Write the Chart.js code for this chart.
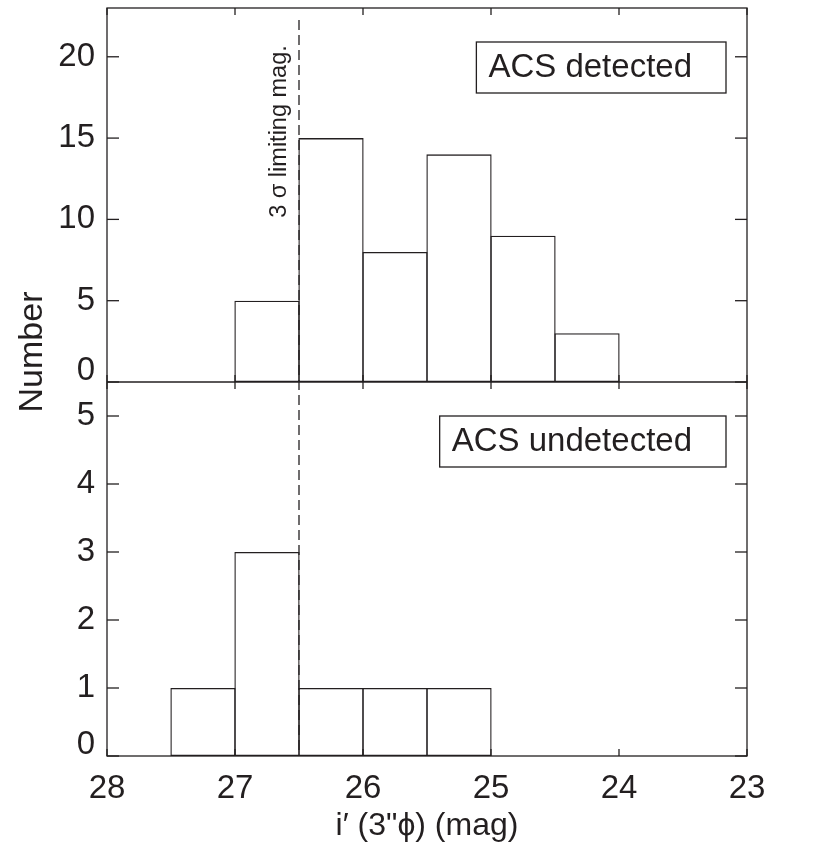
<!DOCTYPE html>
<html>
<head>
<meta charset="utf-8">
<script src="https://cdn.jsdelivr.net/npm/chart.js@4.4.1/dist/chart.umd.min.js"></script>
<style>
  html, body { margin: 0; padding: 0; background: #fff; }
  canvas { display: block; }
</style>
</head>
<body>
<canvas id="chartHistograma" width="831" height="856"></canvas>
<script>
// Bins de 0.5 mag (borda mais fraca de cada bin) e contagens
const larguraBin = 0.5;
const binsDetectados = [27.0, 26.5, 26.0, 25.5, 25.0, 24.5];
const contagemDetectados = [5, 15, 8, 14, 9, 3];
const binsNaoDetectados = [27.5, 27.0, 26.5, 26.0, 25.5];
const contagemNaoDetectados = [1, 3, 1, 1, 1];

// Ticks dos eixos
const ticksMag = [28, 27, 26, 25, 24, 23];
const ticksTopo = [0, 5, 10, 15, 20];
const ticksBase = [0, 1, 2, 3, 4, 5];

const limiteMag = 26.5; // limite 3 sigma
const rotuloLimite = '3 σ limiting mag.';
const rotulosPaineis = ['ACS detected', 'ACS undetected'];

const COR = '#231f20';
const FONTE = "'Liberation Sans', Arial, sans-serif";

document.addEventListener('DOMContentLoaded', () => {
    inicializarGrafico();
});

function paraPontos(bins, contagens) {
    return bins.map((b, i) => ({ x: b - larguraBin / 2, y: contagens[i] }));
}

// desenha moldura, ticks internos, linha tracejada e caixas de texto
const molduraPlugin = {
    id: 'moldura',
    afterDraw(chart) {
        const { ctx, chartArea: a, scales } = chart;
        const x = scales.x;
        const paineis = [scales.yTopo, scales.yBase];
        const linha = (x1, y1, x2, y2) => {
            ctx.beginPath(); ctx.moveTo(x1, y1); ctx.lineTo(x2, y2); ctx.stroke();
        };
        ctx.save();
        ctx.strokeStyle = COR;
        ctx.fillStyle = COR;
        ctx.lineWidth = 1.3;

        ctx.strokeRect(a.left, a.top, a.width, a.height);
        linha(a.left, scales.yTopo.bottom, a.right, scales.yTopo.bottom);

        paineis.forEach(s => {
            s.ticks.forEach(t => {
                const p = s.getPixelForValue(t.value);
                linha(a.left, p, a.left + 12, p);
                linha(a.right - 12, p, a.right, p);
            });
            ticksMag.forEach(v => {
                const p = x.getPixelForValue(v);
                linha(p, s.top, p, s.top + 7);
                linha(p, s.bottom - 7, p, s.bottom);
            });
        });

        // limite 3 sigma
        const px = x.getPixelForValue(limiteMag);
        ctx.setLineDash([10, 5]);
        linha(px, a.top + 12, px, a.bottom);
        ctx.setLineDash([]);

        ctx.save();
        ctx.translate(px - 13, scales.yTopo.getPixelForValue(10.1));
        ctx.rotate(-Math.PI / 2);
        ctx.font = '23.5px ' + FONTE;
        ctx.textAlign = 'left';
        ctx.textBaseline = 'alphabetic';
        ctx.fillText(rotuloLimite, 0, 0);
        ctx.restore();

        // titulo do eixo y (comum aos dois paineis)
        ctx.save();
        ctx.translate(42, a.top + a.height / 2 - 30);
        ctx.rotate(-Math.PI / 2);
        ctx.font = '34px ' + FONTE;
        ctx.textAlign = 'center';
        ctx.textBaseline = 'alphabetic';
        ctx.fillText('Number', 0, 0);
        ctx.restore();

        // caixas com o nome de cada painel
        ctx.font = '33px ' + FONTE;
        ctx.textAlign = 'left';
        ctx.textBaseline = 'alphabetic';
        paineis.forEach((s, i) => {
            const w = ctx.measureText(rotulosPaineis[i]).width + 46;
            const bx = a.right - 21 - w;
            const by = s.top + 34;
            ctx.fillStyle = '#fff';
            ctx.fillRect(bx, by, w, 51);
            ctx.strokeRect(bx, by, w, 51);
            ctx.fillStyle = COR;
            ctx.fillText(rotulosPaineis[i], bx + 12, by + 35);
        });
        ctx.restore();
    }
};

function inicializarGrafico() {
    const ctx = document.getElementById('chartHistograma').getContext('2d');
    const estiloBarra = {
        backgroundColor: 'rgba(0,0,0,0)',
        borderColor: COR,
        borderWidth: 1.3,
        borderSkipped: false,
        barPercentage: 1.02,
        categoryPercentage: 1,
        grouped: false
    };
    const eixoY = (ticks, max) => ({
        type: 'linear',
        position: 'left',
        stack: 'paineis',
        stackWeight: 1,
        offset: false,
        min: 0,
        max: max,
        grid: { display: false, drawTicks: false },
        border: { display: false },
        afterBuildTicks: s => { s.ticks = ticks.map(v => ({ value: v })); },
        afterFit: s => { s.width = 107; s.paddingTop = 0; s.paddingBottom = 0; },
        ticks: {
            color: COR,
            padding: 12,
            autoSkip: false,
            font: { family: FONTE, size: 33, lineHeight: 0.7 },
            callback: v => v === 0 ? ['0', ''] : String(v)
        }
    });

    new Chart(ctx, {
        type: 'bar',
        data: {
            datasets: [
                Object.assign({ label: rotulosPaineis[0], data: paraPontos(binsDetectados, contagemDetectados), yAxisID: 'yTopo' }, estiloBarra),
                Object.assign({ label: rotulosPaineis[1], data: paraPontos(binsNaoDetectados, contagemNaoDetectados), yAxisID: 'yBase' }, estiloBarra)
            ]
        },
        options: {
            responsive: false,
            animation: false,
            devicePixelRatio: 1,
            layout: { padding: { top: 8, right: 84, left: 0, bottom: 0 } },
            plugins: { legend: { display: false }, tooltip: { enabled: false } },
            scales: {
                x: {
                    type: 'linear',
                    position: 'bottom',
                    min: 23,
                    max: 28,
                    reverse: true,
                    offset: false,
                    grid: { display: false, drawTicks: false },
                    border: { display: false },
                    afterBuildTicks: s => { s.ticks = ticksMag.map(v => ({ value: v })); },
                    afterFit: s => { s.height = 100; s.paddingLeft = 0; s.paddingRight = 0; },
                    ticks: { color: COR, padding: 13, font: { family: FONTE, size: 33 } },
                    title: {
                        display: true,
                        text: 'i′ (3"ϕ) (mag)',
                        color: COR,
                        font: { family: FONTE, size: 32 },
                        padding: { top: 0, bottom: 11 }
                    }
                },
                // o primeiro eixo da pilha fica embaixo
                yBase: eixoY(ticksBase, 5.5),
                yTopo: eixoY(ticksTopo, 23)
            }
        },
        plugins: [molduraPlugin]
    });
}
</script>
</body>
</html>
